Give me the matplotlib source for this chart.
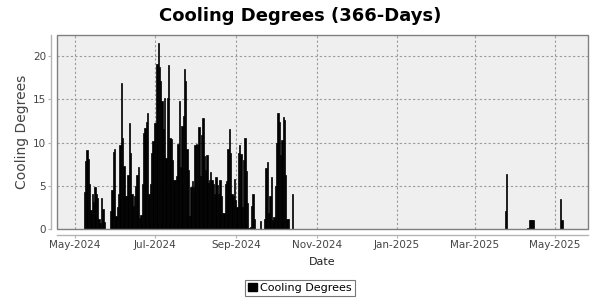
import numpy as np
import pandas as pd
import matplotlib
matplotlib.use('Agg')
import matplotlib.pyplot as plt
import matplotlib.dates as mdates
from matplotlib.patches import Patch, Rectangle

# daily cooling degrees
series_start = '2024-05-06'
series_end = '2025-05-06'

summer_start = '2024-05-08'
summer_values = [
    4.3, 7.9, 9.1, 8.1, 5.2, 2.2, 4.1, 3.1, 4.8, 4.0,
    3.6, 1.2, 0.7, 3.6, 2.3, 0.8, 0.0, 0.0, 0.0, 0.0,
    2.1, 4.5, 8.9, 9.3, 1.5, 2.6, 4.1, 9.7, 16.9, 10.5,
    7.3, 3.8, 3.8, 6.2, 12.2, 8.8, 4.0, 2.7, 3.8, 5.0,
    6.3, 7.2, 1.3, 1.6, 5.2, 11.1, 11.7, 12.4, 13.4, 4.0,
    5.2, 8.8, 10.2, 12.3, 12.3, 19.1, 21.5, 18.7, 17.1, 14.8,
    11.6, 15.1, 8.2, 15.1, 19.0, 10.5, 10.4, 8.0, 5.7, 5.7,
    6.1, 9.8, 14.8, 7.2, 11.9, 13.1, 18.5, 17.1, 9.2, 6.8,
    1.5, 4.9, 5.5, 4.9, 9.7, 9.8, 9.7, 11.8, 6.1, 10.9,
    12.8, 8.4, 6.8, 8.5, 5.3, 5.7, 6.6, 5.7, 5.2, 4.1,
    6.0, 5.1, 4.0, 5.7, 3.8, 1.9, 1.8, 5.2, 5.5, 9.2,
    11.6, 8.8, 4.0, 3.8, 5.8, 3.4, 2.6, 8.8, 9.7, 8.7,
    2.5, 8.0, 10.5, 6.7, 3.0, 0.1, 0.2, 2.7, 4.1, 1.2,
    0.0, 0.0, 0.0, 0.0, 0.9, 0.0, 0.0, 1.1, 7.1, 7.8,
    1.8, 3.8, 6.0, 1.0, 1.4, 5.0, 9.9, 13.4, 12.4, 8.6,
    10.3, 13.0, 12.6, 6.3, 1.2, 1.2, 0.0, 0.0, 4.0,
]

spring_dates = ['2025-03-24', '2025-03-25', '2025-04-10', '2025-04-11',
                '2025-04-12', '2025-04-13', '2025-04-14', '2025-05-05',
                '2025-05-06']
spring_values = [2.1, 6.4, 0.1, 1.0, 1.0, 1.0, 1.0, 3.5, 1.0]

x_ticks = ['2024-05-01', '2024-07-01', '2024-09-01', '2024-11-01',
           '2025-01-01', '2025-03-01', '2025-05-01']
y_ticks = [0, 5, 10, 15, 20]

days = pd.date_range(series_start, series_end, freq='D')
cooling = pd.Series(0.0, index=days)
summer_days = pd.date_range(summer_start, periods=len(summer_values), freq='D')
cooling[summer_days] = summer_values
cooling[pd.to_datetime(spring_dates)] = spring_values
cooling = cooling[cooling > 0]

fig = plt.figure(figsize=(6, 3), dpi=100)
ax = fig.add_axes([57 / 600, 1 - 229 / 300, 531 / 600, 194 / 300])

ax.set_facecolor('#efefef')
ax.bar(cooling.index, cooling.values, width=1.0, align='edge',
       color='black', edgecolor='black', linewidth=0.5, zorder=2)

ref = pd.Timestamp('2024-05-01')
ax.set_xlim(ref - pd.Timedelta(days=13.4), ref + pd.Timedelta(days=390.2))
ax.set_ylim(0, 22.43)

ax.set_xticks(pd.to_datetime(x_ticks))
ax.xaxis.set_major_formatter(mdates.DateFormatter('%b-%Y'))
ax.set_yticks(y_ticks)

ax.grid(True, color='#9a9a9a', linestyle=(0, (2, 2)), linewidth=0.8, zorder=1)
ax.set_axisbelow(True)

for side in ['top', 'right']:
    ax.spines[side].set_visible(False)
for side in ['left', 'bottom']:
    ax.spines[side].set_position(('outward', 4))
    ax.spines[side].set_color('#b4b4b4')
    ax.spines[side].set_linewidth(1)

# plot outline
ax.add_patch(Rectangle((0, 0), 1, 1, transform=ax.transAxes, fill=False,
                       edgecolor='#808080', linewidth=1, zorder=3,
                       clip_on=False))

ax.tick_params(axis='both', length=2, width=0.8, color='#b4b4b4',
               labelcolor='#444444', labelsize=7.5, pad=2)

fig.text(0.5, 1 - 16 / 300, 'Cooling Degrees (366-Days)', ha='center',
         va='center', fontsize=13, fontweight='heavy')
fig.text(22 / 600, 1 - 132 / 300, 'Cooling Degrees', rotation=90,
         ha='center', va='center', fontsize=10, color='#444444')
fig.text(322 / 600, 1 - 262 / 300, 'Date', ha='center', va='center',
         fontsize=8, color='#222222')

leg = fig.legend(handles=[Patch(facecolor='black', edgecolor='black',
                                label='Cooling Degrees')],
                 loc='center', bbox_to_anchor=(0.5, 1 - 288 / 300),
                 fontsize=8, fancybox=False, frameon=True,
                 handlelength=0.8, handleheight=0.8, handletextpad=0.3,
                 borderpad=0.3, borderaxespad=0)
leg.get_frame().set_edgecolor('#555555')
leg.get_frame().set_linewidth(0.8)

fig.savefig('out.png', dpi=100)
